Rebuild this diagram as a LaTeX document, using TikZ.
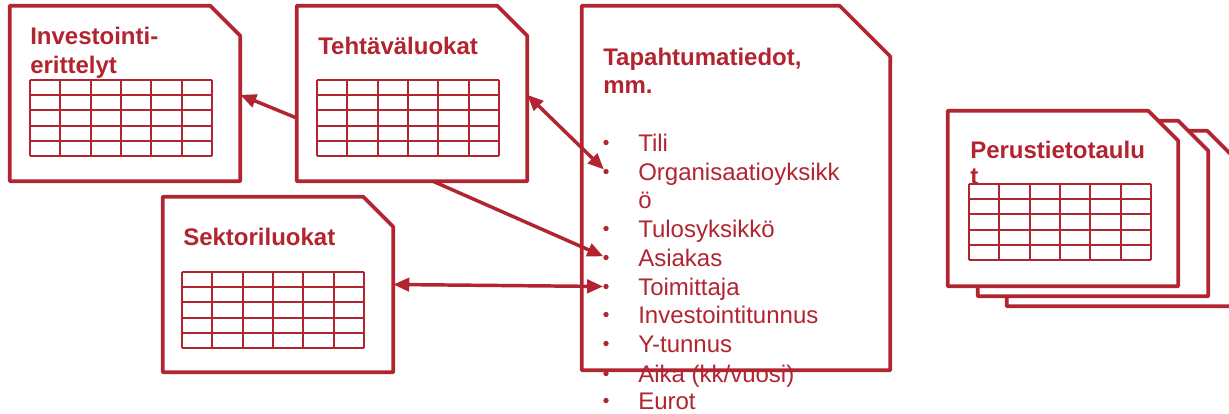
\documentclass[tikz,border=0pt]{standalone}
\usepackage{fontspec}
\setmainfont{Liberation Sans}
\usetikzlibrary{arrows.meta}
\definecolor{docred}{RGB}{178,36,48}
\tikzset{
  sheet/.style={minimum width=172.5pt, minimum height=131.25pt, inner sep=0pt},
  sheetline/.style={draw=docred, line width=2.7pt, fill=white, line join=round},
  tabline/.style={draw=docred, line width=1.5pt},
  title/.style={anchor=base west, inner sep=0pt, text=docred, font=\fontsize{18}{21.5}\selectfont\bfseries},
  item/.style={anchor=base west, inner sep=0pt, text=docred, font=\fontsize{18}{21.5}\selectfont},
  bul/.style={circle, fill=docred, inner sep=0pt, minimum size=4pt},
  link/.style={draw=docred, line width=2.6pt, -{Triangle[length=12pt,width=10pt]}},
  biglink/.style={link, {Triangle[length=12pt,width=10pt]}-{Triangle[length=12pt,width=10pt]}}
}
% sheet with its top right corner cut off
\newcommand{\docsheet}[5][]{%
  \node[sheet,#1] (#2) at (#3,#4) {};
  \draw[sheetline] (#2.south west) -- (#2.north west) -- ([xshift=-#5]#2.north east)
    -- ([yshift=#5]#2.north east) -- (#2.south east) -- cycle;
}
% 6 x 5 table, top left corner
\newcommand{\datatable}[2]{%
  \foreach \c in {0,...,6} \draw[tabline] (#1+\c*30.33,#2) -- ++(0,76);
  \foreach \r in {0,...,5} \draw[tabline] (#1,#2+\r*15.2) -- ++(182,0);
}
\begin{document}
\begin{tikzpicture}[x=0.75pt,y=0.75pt,yscale=-1,xscale=1]
  \useasboundingbox (0,0) rectangle (1229,414);
  \clip (0,0) rectangle (1229,414);
  % left sheets
  \docsheet{inv}{125}{93.5}{22.5pt}
  \datatable{30}{80}
  \node[title] (invtitle) at (30,45) {Investointi-};
  \node[title] (invtitle2) at (30,73) {erittelyt};
  \docsheet{teht}{412}{93.5}{22.5pt}
  \datatable{317}{80}
  \node[title] (tehttitle) at (318,54) {Tehtäväluokat};
  \docsheet{sekt}{278}{284.5}{22.5pt}
  \datatable{182}{272}
  \node[title] (sekttitle) at (183,245) {Sektoriluokat};
  % events
  \docsheet[minimum width=231pt, minimum height=273pt]{tapa}{736}{188}{38pt}
  \node[title] (tapatitle) at (603,65) {Tapahtumatiedot,};
  \node[title] (tapatitle2) at (603,93) {mm.};
  \foreach \nm/\yy/\txt in {tili/151/Tili, org/180/Organisaatioyksikk, tulos/237/Tulosyksikkö,
      asiakas/266/Asiakas, toim/295/Toimittaja, invt/323/Investointitunnus,
      ytun/352/Y-tunnus, aika/382/{Aika (kk/vuosi)}, eurot/409/Eurot}
  {
    \node[bul] (\nm) at (606,\yy-8.5) {};
    \node[item] (\nm-txt) at (638,\yy) {\txt};
  }
  \node[item] (org-txt2) at (638,208) {ö};
  % base tables
  \docsheet{peru3}{1122}{218.5}{22.5pt}
  \docsheet{peru2}{1093}{208.5}{22.5pt}
  \docsheet{peru}{1063}{198.5}{22.5pt}
  \node[title] (perutitle) at (970,158) {Perustietotaulu};
  \node[title] (perutitle2) at (970,184) {t};
  \datatable{969}{184}
  % links
  \draw[link] ([yshift=18.4pt]teht.west) -- ([yshift=1pt]inv.east);
  \draw[biglink] ([yshift=1pt]teht.east) -- (org);
  \draw[link] ([xshift=15.75pt]teht.south) -- (asiakas);
  \draw[biglink] (sekt.east) -- (toim);
\end{tikzpicture}
\end{document}
